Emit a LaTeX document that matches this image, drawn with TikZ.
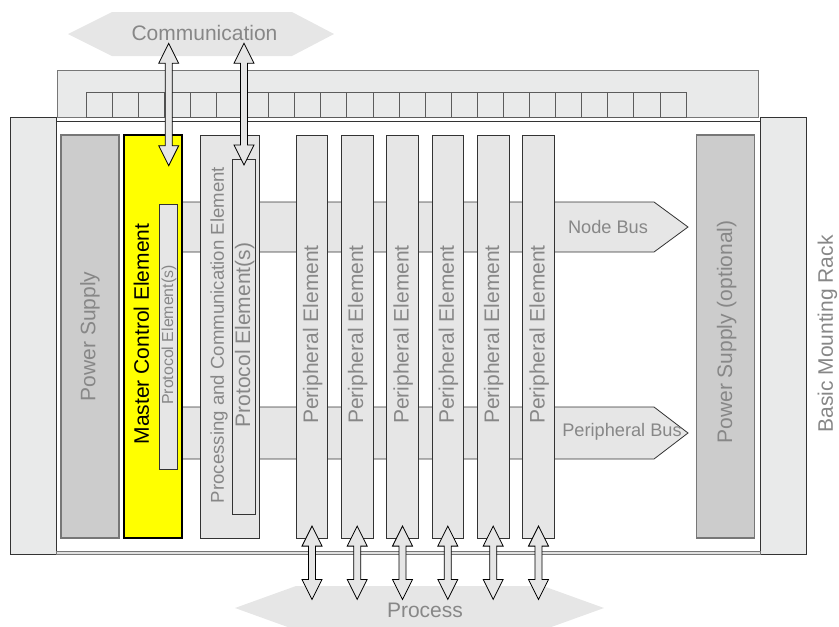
\documentclass[tikz,border=0pt]{standalone}
\usepackage{fontspec}
\setmainfont{Liberation Sans}
\usetikzlibrary{calc}

\definecolor{panelgray}{HTML}{E9EAEA}
\definecolor{cardgray}{HTML}{E6E6E6}
\definecolor{psgray}{HTML}{CCCCCC}
\definecolor{labelgray}{HTML}{878787}
\definecolor{edgedark}{HTML}{333333}
\definecolor{edgemid}{HTML}{777777}
\definecolor{mcyellow}{HTML}{FFFF00}

\tikzset{
  cardbox/.style={draw=edgedark, fill=cardgray, line width=0.8pt, inner sep=0pt, rectangle},
  psbox/.style={draw=edgemid, fill=psgray, line width=1.2pt, inner sep=0pt, rectangle},
  masterbox/.style={draw=black, fill=mcyellow, line width=1.6pt, inner sep=0pt, rectangle},
  bigtext/.style={font=\fontsize{21}{25}\selectfont, text=labelgray, inner sep=0pt},
  midtext/.style={font=\fontsize{18.6}{22}\selectfont, text=labelgray, inner sep=0pt},
  bustext/.style={font=\fontsize{18.2}{22}\selectfont, text=labelgray, inner sep=0pt},
  smalltext/.style={font=\fontsize{15.9}{19}\selectfont, text=labelgray, inner sep=0pt},
  upright/.style={rotate=90},
  % vertical double-headed block arrow, top end first
  fatarrow/.style={draw=black, fill=cardgray, line width=0.8pt,
    to path={
      -- ($(\tikztostart)+(10pt,-20pt)$)
      -- ($(\tikztostart)+(3.5pt,-20pt)$)
      -- ($(\tikztotarget)+(3.5pt,20pt)$)
      -- ($(\tikztotarget)+(10pt,20pt)$)
      -- (\tikztotarget)
      -- ($(\tikztotarget)+(-10pt,20pt)$)
      -- ($(\tikztotarget)+(-3.5pt,20pt)$)
      -- ($(\tikztostart)+(-3.5pt,-20pt)$)
      -- ($(\tikztostart)+(-10pt,-20pt)$)
      -- cycle}},
}

\begin{document}
\begin{tikzpicture}[x=1pt, y=-1pt, line join=miter]
\useasboundingbox (0,0) rectangle (839,627);

% outside world: communication and process
\fill[cardgray] (68,34) -- (112,12) -- (292,12) -- (334,34) -- (292,56) -- (112,56) -- cycle;
\begin{scope}
  \clip (0,0) rectangle (839,627);
  \fill[cardgray] (235,608) -- (296,586) -- (543,586) -- (604,608) -- (543,630) -- (296,630) -- cycle;
\end{scope}
\node[bigtext] (comm) at (204.5,33.3) {Communication};
\node[bigtext] (proc) at (425,610.5) {Process};

% backplane with slots
\draw[edgemid, fill=panelgray, line width=0.9pt] (57.7,70) rectangle (758,117);
\foreach \i in {0,...,22}
  \draw[draw=edgedark!80, fill=panelgray, line width=0.8pt] (86+26.087*\i,92) rectangle ++(26.087,25);

% side panels and rack frame
\draw[edgedark, fill=panelgray, line width=0.8pt] (10.3,117) rectangle (56,554.3);
\draw[edgedark, fill=panelgray, line width=0.8pt] (760,117) rectangle (806,554.3);
\draw[edgedark, fill=white, line width=0.8pt] (56,121) rectangle (760,551);
\draw[edgemid, fill=psgray!60, line width=0.8pt] (56,551) rectangle (760,554.3);
\node[bigtext, upright] (rack) at (827.5,334) {Basic Mounting Rack};

% buses
\draw[edgedark, fill=cardgray, line width=0.8pt]
  (170,202) -- (654,202) -- (688,227) -- (654,252) -- (170,252) -- cycle;
\draw[edgedark, fill=cardgray, line width=0.8pt]
  (170,407) -- (654,407) -- (688,433) -- (654,459) -- (170,459) -- cycle;
\node[bustext] (nodebus) at (608,226.5) {Node Bus};
\node[bustext] (peribus) at (622,432) {Peripheral Bus};

% modules
\node[psbox, minimum width=58pt, minimum height=403pt] (ps) at (90,336.5) {};
\node[bigtext, upright] at (ps) {Power Supply};

\node[masterbox, minimum width=58pt, minimum height=403pt] (mce) at (153,336.5) {};
\node[font=\fontsize{21}{25}\selectfont, inner sep=0pt, upright] (mcetext) at (141.3,334) {Master Control Element};
\node[cardbox, minimum width=18pt, minimum height=265pt] (mceproto) at (168,336.5) {};
\node[smalltext, upright] at (169,335) {Protocol Element(s)};

\node[cardbox, minimum width=59pt, minimum height=403pt] (pce) at (229.5,336.5) {};
\node[midtext, upright] at (219,335) {Processing and Communication Element};
\node[cardbox, minimum width=23pt, minimum height=355pt] (pceproto) at (243.5,336.5) {};
\node[bigtext, upright] at (244.8,335) {Protocol Element(s)};

\foreach \n/\cx in {1/312, 2/357.2, 3/402.5, 4/447.8, 5/493.2, 6/538.5} {
  \node[cardbox, minimum width=31.7pt, minimum height=403pt] (pe\n) at (\cx,336.5) {};
  \node[bigtext, upright] at ($(pe\n)+(0.6pt,2pt)$) {Peripheral Element};
}

\node[psbox, minimum width=58pt, minimum height=403pt] (psopt) at (725.7,336.5) {};
\node[bigtext, upright] at (726.8,332) {Power Supply (optional)};

% communication links
\coordinate (commA) at (168.7,43.3);
\coordinate (mceA) at (168.7,165.7);
\coordinate (commB) at (244,43.3);
\coordinate (pceB) at (244,165);
\draw[fatarrow] (commA) to (mceA);
\draw[fatarrow] (commB) to (pceB);

% process links
\foreach \n in {1,...,6} {
  \coordinate (peTop\n) at ($(pe\n.south)+(0,12.3pt)$);
  \coordinate (procEnd\n) at ($(pe\n.south)+(0,-61pt)$);
  \draw[fatarrow] (peTop\n) to (procEnd\n);
}
\end{tikzpicture}
\end{document}
